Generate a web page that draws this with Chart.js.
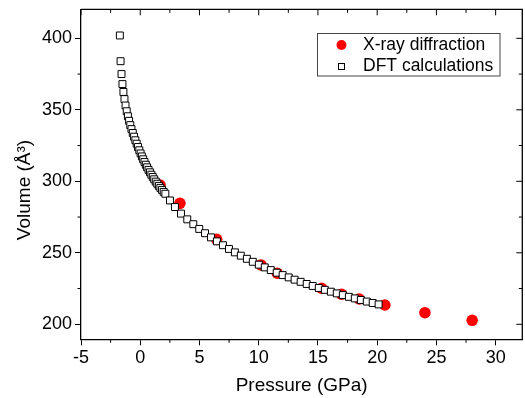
<!DOCTYPE html>
<html>
<head>
<meta charset="utf-8">
<script src="https://cdn.jsdelivr.net/npm/chart.js@4.4.0/dist/chart.umd.min.js"></script>
<style>
  html, body { margin: 0; padding: 0; background: #fff; }
  #wrap { width: 525px; height: 398px; position: relative; }
</style>
</head>
<body>
<div id="wrap"><canvas id="grafico"></canvas></div>
<script>
// X-ray diffraction (red circles)
const xrayPressure = [1.67, 3.35, 6.45, 10.19, 11.57, 15.31, 17.0, 18.49, 20.65, 24.03, 28.02];
const xrayVolume = [297.4, 284.6, 259.4, 241.5, 235.7, 225.2, 221.0, 217.7, 213.5, 208.1, 202.8];

// DFT calculations (open squares)
const dftPressure = [-1.72, -1.66, -1.58, -1.50, -1.42, -1.33, -1.24, -1.14, -1.04, -0.94,
  -0.84, -0.74, -0.63, -0.52, -0.41, -0.30, -0.19, -0.08, 0.03, 0.14,
  0.25, 0.36, 0.47, 0.58, 0.70, 0.82, 0.94, 1.06, 1.18, 1.31,
  1.44, 1.57, 1.70, 1.84, 1.98, 2.12, 2.51, 2.93, 3.44, 3.97,
  4.48, 4.98, 5.47, 5.97, 6.47, 6.98, 7.49, 7.99, 8.49, 9.00,
  9.50, 10.01, 10.51, 11.02, 11.52, 12.02, 12.53, 13.03, 13.54, 14.05,
  14.56, 15.07, 15.58, 16.09, 16.59, 17.10, 17.61, 18.11, 18.62, 19.12,
  19.62, 20.12];
const dftVolume = [402, 384, 375, 368, 362.5, 357.5, 353, 349, 345.5, 342.3,
  339.3, 336.5, 333.8, 331.2, 328.7, 326.3, 324, 321.7, 319.5, 317.4,
  315.4, 313.5, 311.6, 309.8, 308, 306.3, 304.6, 303, 301.4, 299.8,
  298.3, 296.8, 295.4, 294, 292.6, 291.3, 286.6, 282, 277.4, 273.4,
  270, 266.7, 263.7, 260.8, 258, 255.3, 252.7, 250.3, 248, 245.8,
  243.7, 241.7, 239.8, 237.9, 236.1, 234.4, 232.8, 231.2, 229.7, 228.2,
  226.8, 225.4, 224.1, 222.8, 221.6, 220.4, 219.2, 218.1, 217, 215.9,
  214.9, 213.9];

// ticks
const xTicks = [-5, 0, 5, 10, 15, 20, 25, 30];
const xMinorTicks = [-2.5, 2.5, 7.5, 12.5, 17.5, 22.5, 27.5];
const yTicks = [200, 250, 300, 350, 400];
const yMinorTicks = [225, 275, 325, 375];

const fonte = 'Liberation Sans, Arial, sans-serif';
Chart.defaults.font.family = fonte;
Chart.defaults.color = '#000';

// zera o padding automatico das escalas para fixar a area do grafico
function semPadding(s) {
  s.paddingTop = 0;
  s.paddingBottom = 0;
  s.paddingLeft = 0;
  s.paddingRight = 0;
}

// moldura, ticks secundarios, titulo do eixo y e legenda
const molduraPlugin = {
  id: 'moldura',
  afterDraw(chart) {
    const { ctx, chartArea: a, scales: { x, y } } = chart;
    ctx.save();
    ctx.strokeStyle = '#000';
    ctx.lineWidth = 1.3;
    ctx.beginPath();
    ctx.moveTo(a.left, a.top);
    ctx.lineTo(a.right, a.top);
    ctx.lineTo(a.right, a.bottom);
    ctx.stroke();

    ctx.lineWidth = 1;
    ctx.beginPath();
    xTicks.forEach(v => {
      const px = x.getPixelForValue(v);
      ctx.moveTo(px, a.top);
      ctx.lineTo(px, a.top + 6);
    });
    xMinorTicks.forEach(v => {
      const px = x.getPixelForValue(v);
      ctx.moveTo(px, a.top);
      ctx.lineTo(px, a.top + 3.5);
      ctx.moveTo(px, a.bottom);
      ctx.lineTo(px, a.bottom + 3.5);
    });
    yTicks.forEach(v => {
      const py = y.getPixelForValue(v);
      ctx.moveTo(a.right, py);
      ctx.lineTo(a.right - 6, py);
    });
    yMinorTicks.forEach(v => {
      const py = y.getPixelForValue(v);
      ctx.moveTo(a.right, py);
      ctx.lineTo(a.right - 3.5, py);
      ctx.moveTo(a.left, py);
      ctx.lineTo(a.left - 3.5, py);
    });
    ctx.stroke();

    // titulo do eixo y
    ctx.save();
    ctx.translate(25, 190);
    ctx.rotate(-Math.PI / 2);
    ctx.font = '19px ' + fonte;
    ctx.fillStyle = '#000';
    ctx.textAlign = 'center';
    ctx.textBaseline = 'middle';
    ctx.fillText('Volume (Å³)', 0, 0);
    ctx.restore();

    // legenda
    ctx.strokeStyle = '#444';
    ctx.lineWidth = 1;
    ctx.strokeRect(317.5, 33.5, 182.5, 42.5);
    ctx.fillStyle = '#ff0000';
    ctx.beginPath();
    ctx.arc(341.5, 45, 5, 0, Math.PI * 2);
    ctx.fill();
    ctx.fillStyle = '#fff';
    ctx.strokeStyle = '#000';
    ctx.fillRect(338.5, 63.5, 6, 6);
    ctx.strokeRect(338.5, 63.5, 6, 6);
    ctx.fillStyle = '#000';
    ctx.font = '17.5px ' + fonte;
    ctx.textAlign = 'left';
    ctx.textBaseline = 'middle';
    ctx.fillText('X-ray diffraction', 363, 45);
    ctx.fillText('DFT calculations', 363, 66.5);
    ctx.restore();
  }
};

const ctx = document.getElementById('grafico').getContext('2d');
new Chart(ctx, {
  type: 'scatter',
  data: {
    datasets: [
      {
        label: 'X-ray diffraction',
        data: xrayPressure.map((p, i) => ({ x: p, y: xrayVolume[i] })),
        pointStyle: 'circle',
        pointRadius: 5.8,
        pointBackgroundColor: '#ff0000',
        pointBorderWidth: 0,
        order: 2
      },
      {
        label: 'DFT calculations',
        data: dftPressure.map((p, i) => ({ x: p, y: dftVolume[i] })),
        pointStyle: 'rect',
        pointRadius: 4.9,
        pointBackgroundColor: '#fff',
        pointBorderColor: '#000',
        pointBorderWidth: 1,
        order: 1
      }
    ]
  },
  options: {
    responsive: true,
    maintainAspectRatio: false,
    animation: false,
    layout: { autoPadding: false, padding: { top: 9.3, right: 2.7, left: 0, bottom: 0 } },
    plugins: {
      legend: { display: false },
      tooltip: { enabled: false }
    },
    scales: {
      x: {
        type: 'linear',
        min: -5,
        max: 32.25,
        afterBuildTicks: s => { s.ticks = xTicks.map(v => ({ value: v })); },
        afterFit: s => { s.height = 58.7; semPadding(s); },
        ticks: { font: { size: 18 }, padding: 2, maxRotation: 0 },
        grid: { drawOnChartArea: false, drawTicks: true, tickLength: 6, color: '#000', lineWidth: 1 },
        border: { display: true, color: '#000', width: 1.3 },
        title: { display: true, text: 'Pressure (GPa)', font: { size: 19 }, padding: { top: 0, bottom: 0.5 } }
      },
      y: {
        type: 'linear',
        min: 189.5,
        max: 420.3,
        afterBuildTicks: s => { s.ticks = yTicks.map(v => ({ value: v })); },
        afterFit: s => { s.width = 81; semPadding(s); },
        ticks: { font: { size: 18 }, padding: 3 },
        grid: { drawOnChartArea: false, drawTicks: true, tickLength: 6, color: '#000', lineWidth: 1 },
        border: { display: true, color: '#000', width: 1.3 }
      }
    }
  },
  plugins: [molduraPlugin]
});
</script>
</body>
</html>
